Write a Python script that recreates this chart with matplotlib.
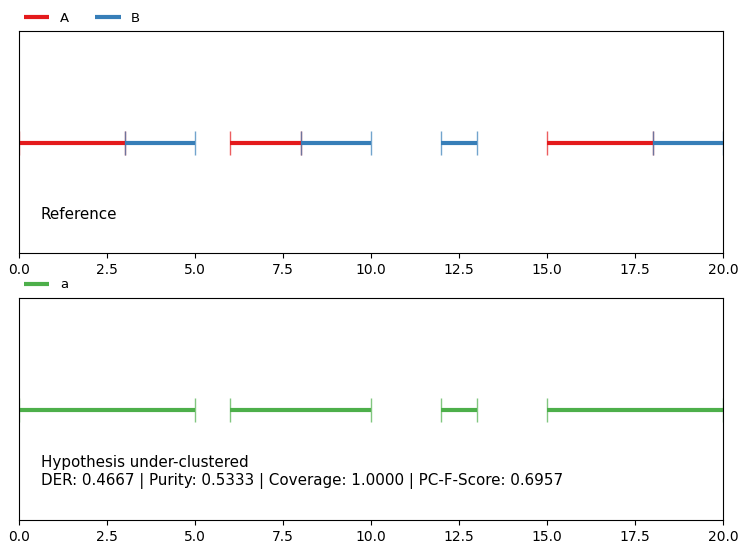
import matplotlib.pyplot as plt

# segments (start, end) per label
ref_labels = ["A", "B"]
ref_segments = {
    "A": [(0, 3), (6, 8), (15, 18)],
    "B": [(3, 5), (8, 10), (12, 13), (18, 20)],
}
hyp_labels = ["a"]
hyp_segments = {
    "a": [(0, 5), (6, 10), (12, 13), (15, 20)],
}
ref_colors = {"A": "#e41a1c", "B": "#377eb8"}
hyp_colors = {"a": "#4daf4a"}
ref_title = "Reference"
hyp_title = ("Hypothesis under-clustered\n"
             "DER: 0.4667 | Purity: 0.5333 | Coverage: 1.0000 | PC-F-Score: 0.6957")

fig = plt.figure(figsize=(7.4, 5.42), dpi=100)
ax1 = fig.add_axes([0.0257, 0.533, 0.9514, 0.410])
ax2 = fig.add_axes([0.0257, 0.0406, 0.9514, 0.410])


def draw(ax, labels, segments, colors, title):
    y = 0.495
    for lab in labels:
        first = True
        for s, e in segments[lab]:
            ax.hlines(y, s, e, color=colors[lab], lw=3,
                      label=lab if first else None)
            ax.vlines([s, e], y - 0.055, y + 0.055, color=colors[lab], lw=1, alpha=0.7)
            first = False
    ax.set_xlim(0, 20)
    ax.set_ylim(0, 1)
    ax.set_yticks([])
    ax.text(0.031, 0.14, title, transform=ax.transAxes, fontsize=10.9, va="bottom")
    ax.legend(loc="lower left", bbox_to_anchor=(0, 1.005), ncol=len(labels), frameon=False,
              borderaxespad=0, fontsize=9.5, handlelength=1.9, columnspacing=2.0)


draw(ax1, ref_labels, ref_segments, ref_colors, ref_title)
draw(ax2, hyp_labels, hyp_segments, hyp_colors, hyp_title)

fig.savefig("out.png", dpi=100)
